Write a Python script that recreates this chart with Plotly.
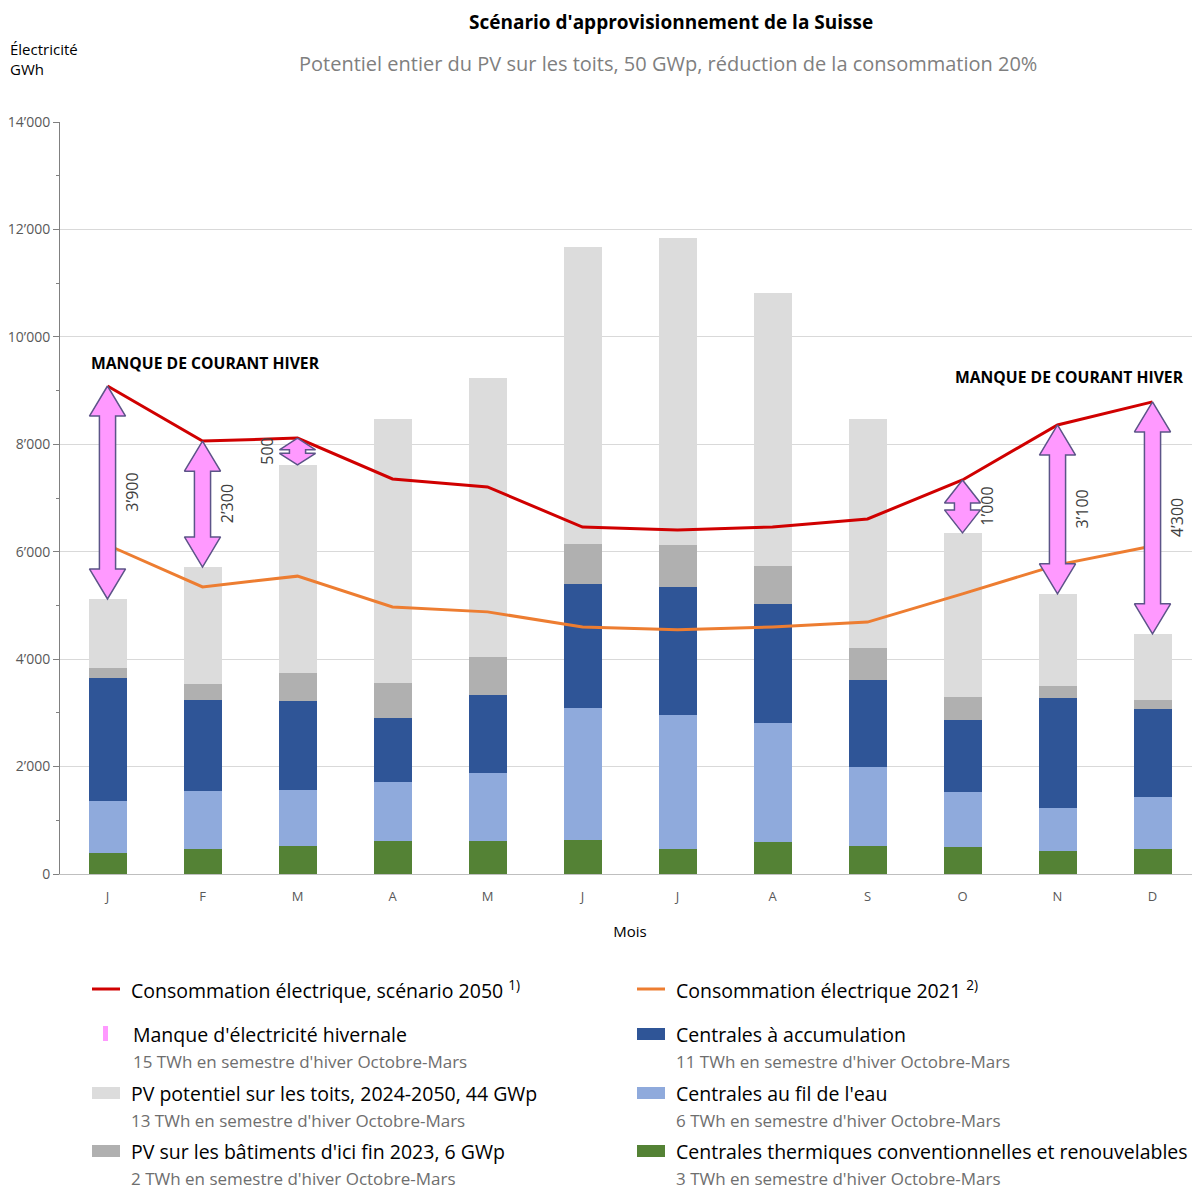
import plotly.graph_objects as go

months = ["J", "F", "M", "A", "M", "J", "J", "A", "S", "O", "N", "D"]

# production par mois (GWh)
thermique = [390, 465, 520, 615, 615, 635, 465, 595, 520, 505, 430, 465]
fil_eau = [970, 1080, 1045, 1100, 1265, 2455, 2495, 2215, 1470, 1020, 800, 970]
accumulation = [2290, 1695, 1655, 1190, 1455, 2310, 2385, 2215, 1620, 1340, 2050, 1640]
pv_existant = [185, 295, 520, 650, 705, 745, 780, 705, 595, 430, 225, 170]
pv_potentiel = [1285, 2180, 3875, 4915, 5195, 5530, 5715, 5085, 4265, 3055, 1710, 1225]

# consommation (GWh)
conso_2050 = [9085, 8060, 8115, 7355, 7205, 6460, 6405, 6460, 6610, 7335, 8360, 8790]
conso_2021 = [6125, 5345, 5545, 4970, 4880, 4600, 4545, 4600, 4690, 5215, 5755, 6105]

# manque hivernal
manque_mois = [0, 1, 2, 9, 10, 11]
manque_labels = ["3’900", "2’300", "500", "1’000", "3’100", "4’300"]

C_THERM = "#548235"
C_FIL = "#8FAADC"
C_ACC = "#2F5597"
C_PVE = "#B0B0B0"
C_PVP = "#DCDCDC"
C_RED = "#D00000"
C_ORANGE = "#ED7D31"
C_PINK = "#FF99FF"
C_PINK_LINE = "#5C5488"

FONT = "Open Sans"

x = list(range(len(months)))

fig = go.Figure()

series = [
    (thermique, C_THERM),
    (fil_eau, C_FIL),
    (accumulation, C_ACC),
    (pv_existant, C_PVE),
    (pv_potentiel, C_PVP),
]
for vals, col in series:
    fig.add_trace(go.Bar(x=x, y=vals, marker=dict(color=col, line=dict(width=0)),
                         width=0.4, showlegend=False))

fig.add_trace(go.Scatter(x=x, y=conso_2021, mode="lines",
                         line=dict(color=C_ORANGE, width=3), showlegend=False))
fig.add_trace(go.Scatter(x=x, y=conso_2050, mode="lines",
                         line=dict(color=C_RED, width=3), showlegend=False))

# doubles fleches du manque
totals = [sum(v) for v in zip(thermique, fil_eau, accumulation, pv_existant, pv_potentiel)]
for i, lab in zip(manque_mois, manque_labels):
    lo = totals[i]
    hi = conso_2050[i]
    span = hi - lo
    h = min(560, span / 2.3)
    sw = 0.085
    hw = 0.19
    xs = [i, i + hw, i + sw, i + sw, i + hw, i, i - hw, i - sw, i - sw, i - hw, i]
    ys = [hi, hi - h, hi - h, lo + h, lo + h, lo, lo + h, lo + h, hi - h, hi - h, hi]
    fig.add_trace(go.Scatter(x=xs, y=ys, mode="lines", fill="toself",
                             fillcolor=C_PINK, line=dict(color=C_PINK_LINE, width=1.5),
                             showlegend=False, hoverinfo="skip"))
    side = -0.33 if i == 2 else 0.26
    fig.add_annotation(x=i + side, y=(hi + lo) / 2, text=lab, textangle=-90,
                       showarrow=False, yanchor="middle",
                       font=dict(family=FONT, size=16, color="#404040"))

fig.add_annotation(x=-0.19, xanchor="left", y=9520, yanchor="middle",
                   text="<b>MANQUE DE COURANT HIVER</b>",
                   showarrow=False, font=dict(family=FONT, size=15.7, color="black"))
fig.add_annotation(x=8.9, xanchor="left", y=9260, yanchor="middle",
                   text="<b>MANQUE DE COURANT HIVER</b>",
                   showarrow=False, font=dict(family=FONT, size=15.7, color="black"))


# pixels de l'ecran -> coordonnees papier (zone du graphique: x 60..1200, y 122..874)
def px(v):
    return (v - 60) / 1140


def py(v):
    return (874 - v) / 752


# titres
fig.add_annotation(xref="paper", yref="paper", x=px(671), y=py(22), yanchor="middle",
                   text="<b>Scénario d'approvisionnement de la Suisse</b>", showarrow=False,
                   font=dict(family=FONT, size=19, color="black"))
fig.add_annotation(xref="paper", yref="paper", x=px(668), y=py(64), yanchor="middle",
                   text="Potentiel entier du PV sur les toits, 50 GWp, réduction de la consommation 20%",
                   showarrow=False, font=dict(family=FONT, size=20, color="#7F7F7F"))
fig.add_annotation(xref="paper", yref="paper", x=px(8), xanchor="left", y=py(59),
                   yanchor="middle", text="Électricité<br>GWh", showarrow=False, align="left",
                   font=dict(family=FONT, size=15, color="black"))

# legende
legend_items = [
    # (col x, row y, kind, color, titre, sous-titre)
    (92, 989, "line", C_RED, "Consommation électrique, scénario 2050 <sup>1)</sup>", None),
    (637, 989, "line", C_ORANGE, "Consommation électrique 2021 <sup>2)</sup>", None),
    (92, 1034, "pink", C_PINK, "Manque d'électricité hivernale", "15 TWh en semestre d'hiver Octobre-Mars"),
    (637, 1034, "rect", C_ACC, "Centrales à accumulation", "11 TWh en semestre d'hiver Octobre-Mars"),
    (92, 1093, "rect", C_PVP, "PV potentiel sur les toits, 2024-2050, 44 GWp", "13 TWh en semestre d'hiver Octobre-Mars"),
    (637, 1093, "rect", C_FIL, "Centrales au fil de l'eau", "6 TWh en semestre d'hiver Octobre-Mars"),
    (92, 1151, "rect", C_PVE, "PV sur les bâtiments d'ici fin 2023, 6 GWp", "2 TWh en semestre d'hiver Octobre-Mars"),
    (637, 1151, "rect", C_THERM, "Centrales thermiques conventionnelles et renouvelables", "3 TWh en semestre d'hiver Octobre-Mars"),
]
for lx, ly, kind, col, title, sub in legend_items:
    if kind == "line":
        fig.add_shape(type="line", xref="paper", yref="paper", x0=px(lx), x1=px(lx + 28),
                      y0=py(ly), y1=py(ly), line=dict(color=col, width=3))
    elif kind == "rect":
        fig.add_shape(type="rect", xref="paper", yref="paper", x0=px(lx), x1=px(lx + 28),
                      y0=py(ly - 6), y1=py(ly + 6), fillcolor=col, line=dict(width=0))
    else:
        fig.add_shape(type="rect", xref="paper", yref="paper", x0=px(lx + 11), x1=px(lx + 16),
                      y0=py(ly - 8), y1=py(ly + 7), fillcolor=col, line=dict(width=0))
    tx = lx + 37 if kind != "pink" else lx + 39
    fig.add_annotation(xref="paper", yref="paper", x=px(tx), xanchor="left", y=py(ly),
                       yanchor="middle", text=title, showarrow=False,
                       font=dict(family=FONT, size=19.5, color="black"))
    if sub:
        fig.add_annotation(xref="paper", yref="paper", x=px(tx), xanchor="left", y=py(ly + 27),
                           yanchor="middle", text=sub, showarrow=False,
                           font=dict(family=FONT, size=17, color="#6E6E6E"))

# la page ajoute 8 px de marge autour du graphique
fig.update_layout(
    width=1200, height=1191,
    margin=dict(l=52, r=8, t=114, b=325),
    barmode="stack",
    bargap=0.6,
    plot_bgcolor="white",
    paper_bgcolor="white",
    separators=".’",
    font=dict(family=FONT, color="#595959"),
)
fig.update_xaxes(
    range=[-0.5, 11.5], tickvals=x, ticktext=months,
    tickfont=dict(size=13, color="#595959"),
    showline=True, linecolor="#BFBFBF", linewidth=1,
    ticks="", ticklabelstandoff=10, showgrid=False, automargin=False,
    title=dict(text="Mois", font=dict(size=15, color="black"), standoff=22),
)
fig.update_yaxes(
    range=[0, 14000], dtick=2000, tickformat=",d",
    tickfont=dict(size=14, color="#595959"),
    showline=True, linecolor="#808080", linewidth=1,
    ticks="outside", ticklen=6, tickcolor="#808080",
    minor=dict(dtick=1000, ticks="outside", ticklen=3, tickcolor="#808080", showgrid=False),
    showgrid=True, gridcolor="#D9D9D9", gridwidth=1,
    zeroline=False, automargin=False,
)

fig.write_html("out.html")
